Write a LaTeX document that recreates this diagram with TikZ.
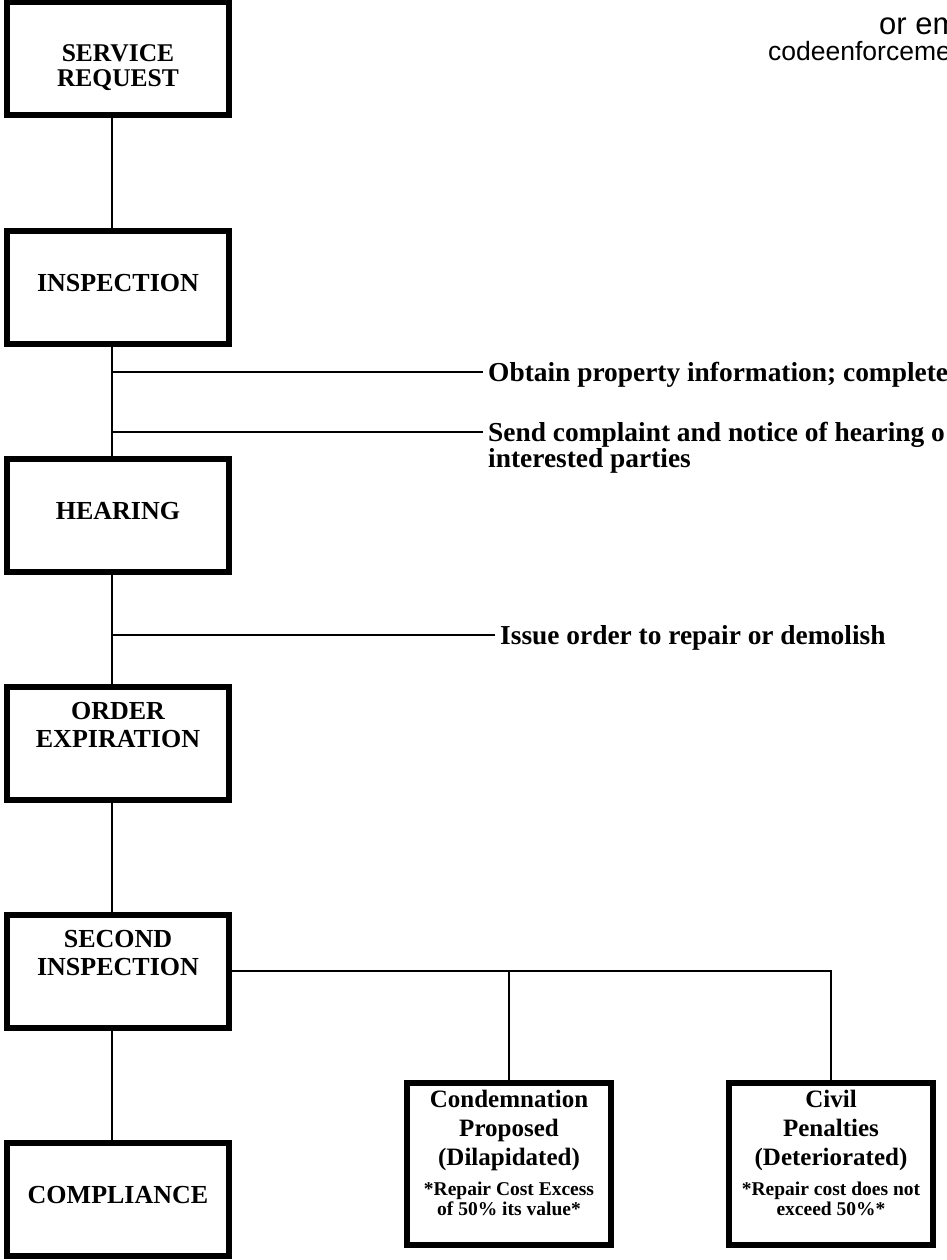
\documentclass[tikz,border=0pt]{standalone}
\usepackage{fontspec}
\setmainfont{Liberation Serif}
\newfontfamily\mailfont{Liberation Sans}
\begin{document}
\begin{tikzpicture}[x=1pt,y=-1pt,
	stage/.style={draw,line width=6pt,fill=white,minimum width=222pt,minimum height=113pt,inner sep=0pt,text depth=8pt,align=center,font=\bfseries\fontsize{26}{28}\selectfont},
	stagetext/.style={anchor=north,inner sep=0pt,align=center,font=\bfseries\fontsize{26}{28}\selectfont},
	outcome/.style={draw,line width=6pt,fill=white,minimum width=204pt,minimum height=162pt,inner sep=0pt},
	outtext/.style={anchor=north,inner sep=0pt,align=center,font=\bfseries\fontsize{25}{29}\selectfont},
	note/.style={inner xsep=5pt,inner ysep=0pt,align=left,font=\bfseries\fontsize{27.4}{24}\selectfont},
	wire/.style={line width=2.5pt}]
		\useasboundingbox (0,0) rectangle (947,1260);
		\coordinate (spine) at (112,0);
		\node[anchor=base west,inner sep=0pt,font=\mailfont\fontsize{31}{31}\selectfont] (mailA) at (879,35) {or em};
		\node[anchor=base west,inner sep=0pt,font=\mailfont\fontsize{26.5}{26.5}\selectfont] (mailB) at (768,61) {codeenforceme};
		\node[stage] (request) at (118,59) {};
		\node[stage] (inspect) at (118,287) {INSPECTION};
		\node[stage] (hearing) at (118,515) {HEARING};
		\node[stage] (expire) at (118,743) {};
		\node[stage] (second) at (118,971) {};
		\node[stage] (comply) at (118,1199) {COMPLIANCE};
		\node[stagetext,font=\bfseries\fontsize{25.5}{25}\selectfont] (requestTxt) at ([yshift=-45pt]request.north) {SERVICE\\REQUEST};
		\node[stagetext] (expireTxt) at ([yshift=-19pt]expire.north) {ORDER\\EXPIRATION};
		\node[stagetext] (secondTxt) at ([yshift=-19pt]second.north) {SECOND\\INSPECTION};
		\foreach \a/\b in {request/inspect,inspect/hearing,hearing/expire,expire/second,second/comply}
			\draw[wire] (\a.south -| spine) -- (\b.north -| spine);
		\coordinate (obtainJ) at (112,372);
		\coordinate (sendJ) at (112,432);
		\coordinate (issueJ) at (112,635);
		\node[note,anchor=base west] (obtain) at (483,381) {Obtain property information; complete};
		\node[note,anchor=north west] (send) at (483,422) {Send complaint and notice of hearing o\\interested parties};
		\node[note,anchor=base west] (issue) at (495,644) {Issue order to repair or demolish};
		\draw[wire] (obtainJ) -- (obtainJ -| obtain.west);
		\draw[wire] (sendJ) -- (sendJ -| send.west);
		\draw[wire] (issueJ) -- (issueJ -| issue.west);
		\node[outcome] (condemn) at (509,1164) {};
		\node[outcome] (civil) at (831,1164) {};
		\node[outtext] (condemnTxt) at ([yshift=-10pt]condemn.north) {Condemnation\\Proposed\\(Dilapidated)\\[1pt]{\fontsize{19.5}{21}\selectfont *Repair Cost Excess}\\[-9pt]{\fontsize{19.5}{21}\selectfont of 50\% its value*}};
		\node[outtext] (civilTxt) at ([yshift=-10pt]civil.north) {Civil\\Penalties\\(Deteriorated)\\[1pt]{\fontsize{19.5}{21}\selectfont *Repair cost does not}\\[-9pt]{\fontsize{19.5}{21}\selectfont exceed 50\%*}};
		\draw[wire] (second.east) -- (second.east -| civil.north) -- (civil.north);
		\draw[wire] (second.east -| condemn.north) -- (condemn.north);
\end{tikzpicture}
\end{document}
